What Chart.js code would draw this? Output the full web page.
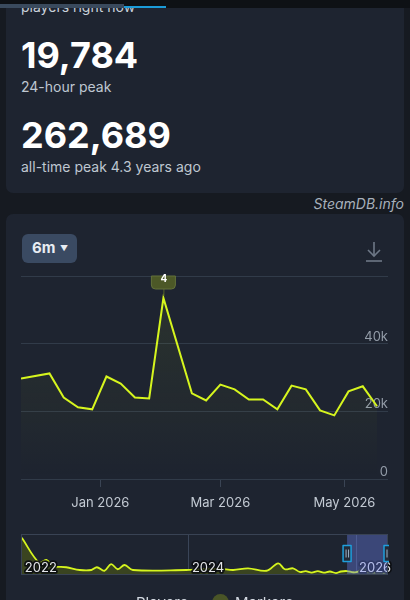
<!DOCTYPE html>
<html>
<head>
<meta charset="utf-8">
<script src="https://cdn.jsdelivr.net/npm/chart.js@4.4.1/dist/chart.umd.min.js"></script>
<style>
html,body{margin:0;padding:0;width:410px;height:600px;overflow:hidden;background:#161a21;font-family:Inter,Roboto,"Noto Sans",sans-serif;}
.abs{position:absolute;white-space:nowrap;line-height:1;}
#topbar{position:absolute;left:0;top:0;width:410px;height:8px;background:#0e1115;z-index:10}
#topbar .g{position:absolute;left:0;top:4px;width:124px;height:4px;background:#3a4a5d}
#topbar .b{position:absolute;left:124px;top:6px;width:42px;height:2px;background:#1b9bd8}
.card{position:absolute;left:6px;width:398px;background:#1e2430;border-radius:7px}
#card1{top:-30px;height:223px}
#card2{top:214px;height:420px}
.big{font-size:36px;font-weight:700;color:#ffffff;left:21px}
.sub{font-size:14px;color:#bfc7d1;left:21px}
#btn{position:absolute;left:22px;top:234px;width:55px;height:29px;background:#3a4a62;border-radius:6px}
#mainWrap{position:absolute;left:0;top:213px;width:410px;height:307px}
#navWrap{position:absolute;left:0;top:525px;width:410px;height:75px}
</style>
</head>
<body>
<div class="card" id="card1"></div>
<div class="card" id="card2"></div>
<div id="topbar"><div class="g"></div><div class="b"></div></div>

<div class="abs sub" style="top:0px;color:#c9d1db">players right now</div>
<div class="abs big" style="top:37px">19,784</div>
<div class="abs sub" style="top:80px">24-hour peak</div>
<div class="abs big" style="top:117px">262,689</div>
<div class="abs sub" style="top:160px">all-time peak 4.3 years ago</div>
<div class="abs" style="top:197px;right:6px;font-size:14px;font-style:italic;color:#a7b0bb">SteamDB.info</div>

<div id="btn"></div>
<div class="abs" style="top:240px;left:32px;font-size:15px;font-weight:700;color:#e8edf3">6m</div>
<div class="abs" style="top:244px;left:60px;font-size:8px;color:#e8edf3">▼</div>

<svg style="position:absolute;left:364px;top:240px" width="22" height="24">
  <g stroke="#6e7887" stroke-width="1.6" fill="none">
    <line x1="10" y1="2" x2="10" y2="16"/>
    <polyline points="4,10 10,16 16,10"/>
    <line x1="2" y1="21" x2="18" y2="21"/>
  </g>
</svg>

<div id="mainWrap"><canvas id="main" width="410" height="307"></canvas></div>
<div id="navWrap"><canvas id="nav" width="410" height="75"></canvas></div>

<div class="abs" style="top:595px;left:136px;font-size:15px;color:#d3d9e1">Players</div>
<div style="position:absolute;left:212px;top:594px;width:17px;height:17px;border-radius:50%;background:#4a5527"></div>
<div class="abs" style="top:595px;left:235px;font-size:15px;color:#d3d9e1">Markers</div>

<script>
// ---- main chart data (last 6 months) ----
const mainDates = ['2025-11-23','2025-12-07','2025-12-14','2025-12-21','2025-12-28','2026-01-04','2026-01-11','2026-01-18','2026-01-25','2026-02-01','2026-02-15','2026-02-22','2026-03-01','2026-03-08','2026-03-15','2026-03-22','2026-03-29','2026-04-05','2026-04-12','2026-04-19','2026-04-26','2026-05-03','2026-05-10','2026-05-17'];
const mainPlayers = [29700,31200,24100,21200,20600,30300,28200,24100,23800,53500,25300,23200,27900,26500,23500,23500,20600,27600,26500,20300,18800,25900,27400,21500];
const xTickDates = ['2026-01-01','2026-03-01','2026-05-01'];
const xTickLabels = ['Jan 2026','Mar 2026','May 2026'];
const yTicks = [0,20000,40000,60000];
const yTickLabels = ['0','20k','40k',''];
const markerDates = ['2026-02-01'];
const markerLabels = ['4'];

// ---- navigator data (full history) ----
const navDates = ['2022-01-01','2022-03-17','2022-04-18','2022-05-17','2022-07-14','2022-09-11','2022-11-01','2022-11-25','2022-12-28','2023-01-26','2023-02-24','2023-03-26','2023-05-01','2023-12-20','2024-05-16','2024-07-13','2024-09-16','2024-12-06','2025-01-26','2025-02-24','2025-04-01','2025-04-30','2025-05-26','2025-06-21','2025-07-18','2025-08-13','2025-09-09','2025-10-05','2025-10-27','2025-11-23','2025-12-20','2026-01-10','2026-02-01','2026-02-20','2026-03-25','2026-04-26','2026-05-17'];
const navPlayers = [245000,81000,99000,59000,51000,33000,33000,51000,28000,72000,38000,66000,33000,33000,40000,33000,44000,28000,77000,38000,44000,20000,26000,16000,26000,16000,23000,13000,23000,26000,18000,22000,45000,20000,18000,15000,19000];
const navTickYears = [2022,2024,2026];
const navTickLabels = ['2022','2024','2026'];

const LINE = '#d6f51e';
const GRID = '#313b49';

function dayOf(s){const [y,m,d]=s.split('-').map(Number);return (Date.UTC(y,m-1,d)-Date.UTC(2026,0,1))/86400000;}
function yearOf(s){const [y,m,d]=s.split('-').map(Number);const t=Date.UTC(y,m-1,d),a=Date.UTC(y,0,1),b=Date.UTC(y+1,0,1);return y+(t-a)/(b-a);}

const flagPlugin={
  id:'flags',
  afterDatasetsDraw(chart){
    const {ctx,chartArea,scales:{x,y}}=chart;
    markerDates.forEach((d,i)=>{
      const px=x.getPixelForValue(dayOf(d));
      const idx=mainDates.indexOf(d);
      const py=y.getPixelForValue(mainPlayers[idx]);
      const top=chartArea.top, w=24, h=13;
      ctx.save();
      ctx.strokeStyle='#56632c';ctx.lineWidth=1;
      ctx.beginPath();ctx.moveTo(px+0.5,top+h);ctx.lineTo(px+0.5,py-2);ctx.stroke();
      ctx.fillStyle='#4c5827';ctx.strokeStyle='#63713a';
      ctx.beginPath();
      ctx.moveTo(px-w/2,top);ctx.lineTo(px+w/2,top);ctx.lineTo(px+w/2,top+h-4);
      ctx.quadraticCurveTo(px+w/2,top+h,px+w/2-4,top+h);ctx.lineTo(px-w/2+4,top+h);
      ctx.quadraticCurveTo(px-w/2,top+h,px-w/2,top+h-4);ctx.closePath();ctx.fill();ctx.stroke();
      ctx.fillStyle='#ffffff';ctx.font='bold 10px Inter, Roboto, sans-serif';
      ctx.textAlign='center';ctx.textBaseline='middle';
      ctx.fillText(markerLabels[i],px+0.5,top+3);
      ctx.restore();
    });
  }
};

const mainCtx=document.getElementById('main').getContext('2d');
new Chart(mainCtx,{
  type:'line',
  data:{datasets:[{
    data:mainDates.map((d,i)=>({x:dayOf(d),y:mainPlayers[i]})),
    borderColor:LINE,borderWidth:2,pointRadius:0,tension:0,
    fill:'origin',
    backgroundColor:(c)=>{const ca=c.chart.chartArea;if(!ca)return 'rgba(0,0,0,0)';
      const g=c.chart.ctx.createLinearGradient(0,ca.top,0,ca.bottom);
      g.addColorStop(0,'rgba(214,245,30,0.08)');g.addColorStop(1,'rgba(214,245,30,0)');return g;}
  }]},
  options:{
    responsive:false,animation:false,
    layout:{padding:{left:21,right:22,top:63,bottom:0}},
    plugins:{legend:{display:false},tooltip:{enabled:false}},
    scales:{
      x:{type:'linear',min:dayOf(mainDates[0]),max:141.4,
        afterBuildTicks:s=>{s.ticks=xTickDates.map(d=>({value:dayOf(d)}));},
        afterFit:s=>{s.height=41;},
        ticks:{callback:(v)=>{const i=xTickDates.findIndex(d=>dayOf(d)===v);return i>=0?xTickLabels[i]:'';},
          color:'#c3cad3',font:{family:'Inter, Roboto, sans-serif',size:13},padding:8,maxRotation:0,autoSkip:false},
        grid:{drawOnChartArea:false,color:'#3a4454',tickLength:8},
        border:{display:false}
      },
      y:{position:'right',min:0,max:60000,
        afterBuildTicks:s=>{s.ticks=yTicks.map(v=>({value:v}));},
        afterFit:s=>{s.width=0;},
        ticks:{mirror:true,padding:0,labelOffset:-7,crossAlign:'near',
          callback:(v)=>yTickLabels[yTicks.indexOf(v)],
          color:'#939ca8',font:{family:'Inter, Roboto, sans-serif',size:13}},
        grid:{color:GRID,drawTicks:false},
        border:{display:false}
      }
    }
  },
  plugins:[flagPlugin]
});

const navPlugin={
  id:'navdeco',
  afterDatasetsDraw(chart){
    const {ctx,chartArea:ca,scales:{x}}=chart;
    ctx.save();
    ctx.font='13px Inter, Roboto, sans-serif';ctx.textAlign='left';ctx.textBaseline='alphabetic';
    navTickYears.forEach((yr,i)=>{
      const px=Math.max(x.getPixelForValue(yr),ca.left)+3;
      ctx.lineWidth=3.5;ctx.strokeStyle='rgba(10,12,16,0.9)';ctx.lineJoin='round';
      ctx.strokeText(navTickLabels[i],px,ca.bottom-3);
      ctx.fillStyle='#e2e4e8';ctx.fillText(navTickLabels[i],px,ca.bottom-3);
    });
    const sx=x.getPixelForValue(yearOf(mainDates[0]));
    ctx.fillStyle='rgba(108,128,240,0.38)';
    ctx.fillRect(sx,ca.top,ca.right-sx,ca.bottom-ca.top);
    ctx.strokeStyle='#394354';ctx.lineWidth=1;
    ctx.strokeRect(ca.left+0.5,ca.top+0.5,ca.right-ca.left-1,ca.bottom-ca.top-1);
    ctx.beginPath();ctx.rect(0,0,ca.right+1,chart.height);ctx.clip();
    [sx,ca.right].forEach(hx=>{
      const hy=(ca.top+ca.bottom)/2-1;
      ctx.fillStyle='#232a37';ctx.strokeStyle='#1f9fdc';ctx.lineWidth=1.5;
      ctx.fillRect(hx-4,hy-8,8,16);ctx.strokeRect(hx-4,hy-8,8,16);
      ctx.strokeStyle='#9fb4c8';ctx.lineWidth=1;
      ctx.beginPath();ctx.moveTo(hx-1,hy-4);ctx.lineTo(hx-1,hy+4);ctx.moveTo(hx+1.5,hy-4);ctx.lineTo(hx+1.5,hy+4);ctx.stroke();
    });
    ctx.restore();
  }
};

const navCtx=document.getElementById('nav').getContext('2d');
new Chart(navCtx,{
  type:'line',
  data:{datasets:[{
    data:navDates.map((d,i)=>({x:yearOf(d),y:navPlayers[i]})),
    borderColor:LINE,borderWidth:1.8,pointRadius:0,tension:0.35,
    fill:'origin',backgroundColor:'#3a4420'
  }]},
  options:{
    responsive:false,animation:false,
    layout:{padding:{left:21,right:22,top:9,bottom:25}},
    plugins:{legend:{display:false},tooltip:{enabled:false}},
    scales:{
      x:{type:'linear',display:true,min:2021.99,max:2026.383,
        afterBuildTicks:s=>{s.ticks=navTickYears.map(v=>({value:v}));},
        afterFit:s=>{s.height=0;},
        ticks:{display:false},
        grid:{color:'#3a4558',drawTicks:false},
        border:{display:false}
      },
      y:{display:false,min:0,max:270000}
    }
  },
  plugins:[navPlugin]
});
</script>
</body>
</html>
